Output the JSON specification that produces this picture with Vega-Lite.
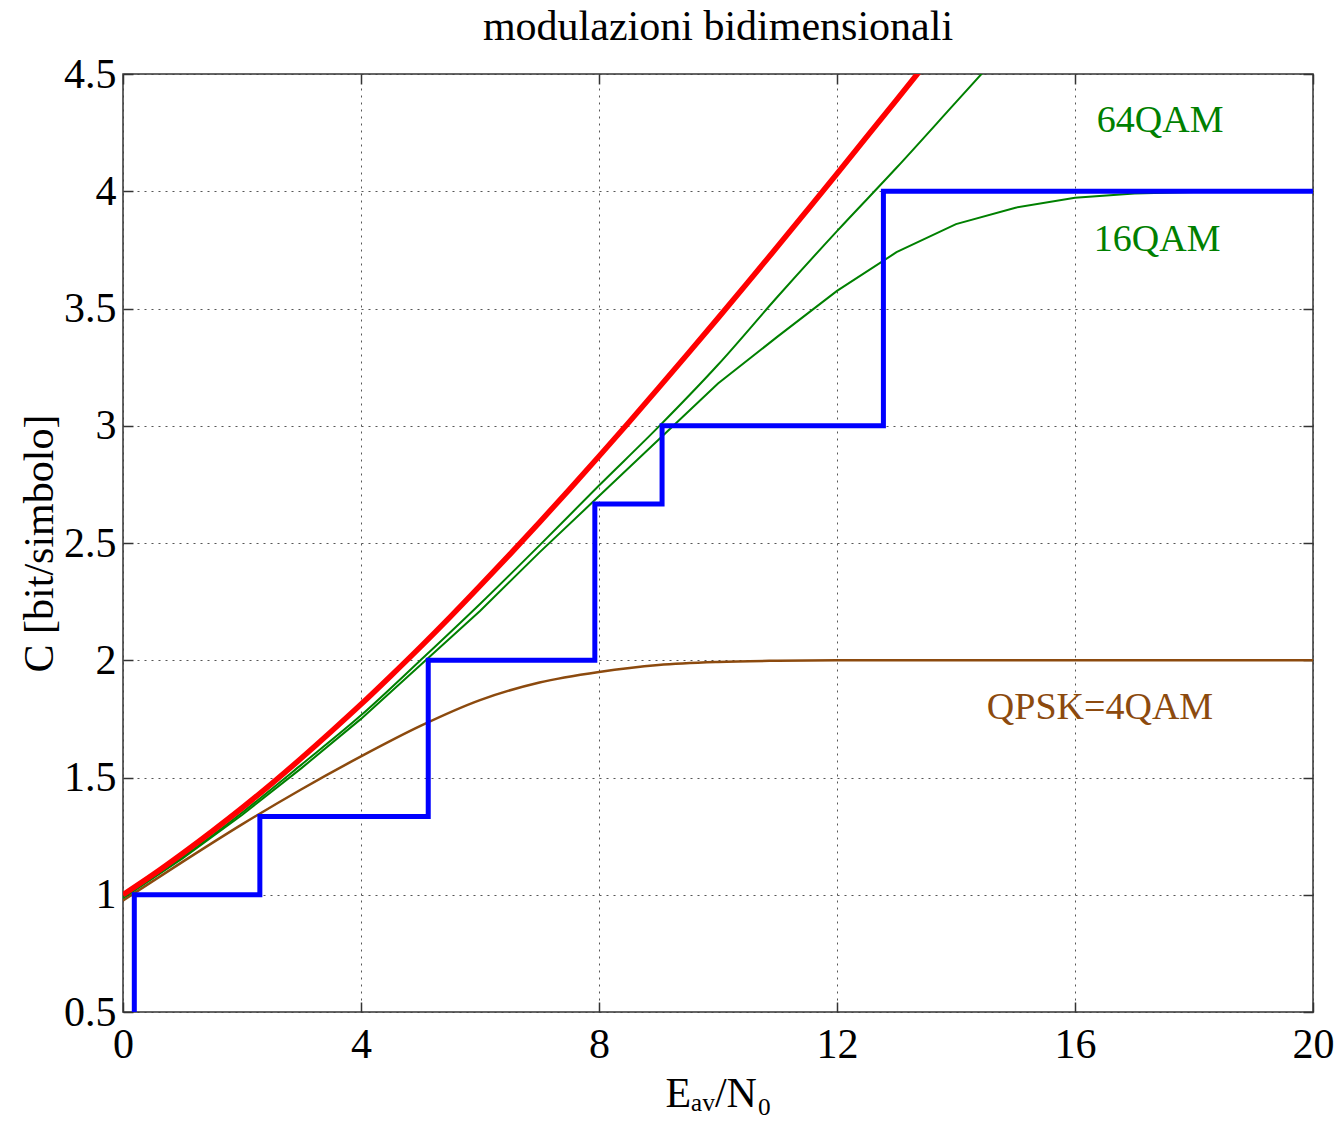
{
  "$schema": "https://vega.github.io/schema/vega-lite/v6.json",
  "width": 1190,
  "height": 938,
  "autosize": {"type": "none"},
  "padding": {"left": 123, "top": 74, "right": 26, "bottom": 116},
  "background": "white",
  "title": {"text": "modulazioni bidimensionali", "font": "Liberation Serif", "fontSize": 42, "fontWeight": "normal", "color": "black", "offset": 4, "anchor": "middle"},
  "config": {
    "view": {"stroke": "#333333", "strokeWidth": 1.5},
    "axis": {
      "labelFont": "Liberation Serif", "labelFontSize": 42, "labelColor": "black",
      "titleFont": "Liberation Serif", "titleFontSize": 42, "titleFontWeight": "normal", "titleColor": "black",
      "domain": false, "tickColor": "#333333", "tickWidth": 1.5,
      "gridColor": "#444444", "gridDash": [2, 5], "gridWidth": 1, "gridOpacity": 0.9
    }
  },
  "datasets": {
    "curves": [
      {"s": "shannon", "k": 0, "x": 0, "y": 1.0},
      {"s": "shannon", "k": 1, "x": 0.5, "y": 1.085},
      {"s": "shannon", "k": 2, "x": 1, "y": 1.176},
      {"s": "shannon", "k": 3, "x": 1.5, "y": 1.271},
      {"s": "shannon", "k": 4, "x": 2, "y": 1.37},
      {"s": "shannon", "k": 5, "x": 2.5, "y": 1.474},
      {"s": "shannon", "k": 6, "x": 3, "y": 1.583},
      {"s": "shannon", "k": 7, "x": 3.5, "y": 1.696},
      {"s": "shannon", "k": 8, "x": 4, "y": 1.812},
      {"s": "shannon", "k": 9, "x": 4.5, "y": 1.933},
      {"s": "shannon", "k": 10, "x": 5, "y": 2.057},
      {"s": "shannon", "k": 11, "x": 5.5, "y": 2.185},
      {"s": "shannon", "k": 12, "x": 6, "y": 2.317},
      {"s": "shannon", "k": 13, "x": 6.5, "y": 2.451},
      {"s": "shannon", "k": 14, "x": 7, "y": 2.588},
      {"s": "shannon", "k": 15, "x": 7.5, "y": 2.728},
      {"s": "shannon", "k": 16, "x": 8, "y": 2.87},
      {"s": "shannon", "k": 17, "x": 8.5, "y": 3.014},
      {"s": "shannon", "k": 18, "x": 9, "y": 3.161},
      {"s": "shannon", "k": 19, "x": 9.5, "y": 3.309},
      {"s": "shannon", "k": 20, "x": 10, "y": 3.459},
      {"s": "shannon", "k": 21, "x": 10.5, "y": 3.611},
      {"s": "shannon", "k": 22, "x": 11, "y": 3.764},
      {"s": "shannon", "k": 23, "x": 11.5, "y": 3.919},
      {"s": "shannon", "k": 24, "x": 12, "y": 4.075},
      {"s": "shannon", "k": 25, "x": 12.5, "y": 4.232},
      {"s": "shannon", "k": 26, "x": 13, "y": 4.389},
      {"s": "shannon", "k": 27, "x": 13.5, "y": 4.548},
      {"s": "shannon", "k": 28, "x": 14, "y": 4.707},
      {"s": "64QAM", "k": 0, "x": 0, "y": 0.99},
      {"s": "64QAM", "k": 1, "x": 1, "y": 1.16},
      {"s": "64QAM", "k": 2, "x": 2, "y": 1.35},
      {"s": "64QAM", "k": 3, "x": 3, "y": 1.555},
      {"s": "64QAM", "k": 4, "x": 4, "y": 1.765},
      {"s": "64QAM", "k": 5, "x": 5, "y": 2.0},
      {"s": "64QAM", "k": 6, "x": 6, "y": 2.24},
      {"s": "64QAM", "k": 7, "x": 7, "y": 2.49},
      {"s": "64QAM", "k": 8, "x": 8, "y": 2.745},
      {"s": "64QAM", "k": 9, "x": 9, "y": 2.995},
      {"s": "64QAM", "k": 10, "x": 10, "y": 3.26},
      {"s": "64QAM", "k": 11, "x": 11, "y": 3.55},
      {"s": "64QAM", "k": 12, "x": 12, "y": 3.83},
      {"s": "64QAM", "k": 13, "x": 13, "y": 4.1},
      {"s": "64QAM", "k": 14, "x": 14, "y": 4.38},
      {"s": "64QAM", "k": 15, "x": 15, "y": 4.66},
      {"s": "16QAM", "k": 0, "x": 0, "y": 0.985},
      {"s": "16QAM", "k": 1, "x": 1, "y": 1.155},
      {"s": "16QAM", "k": 2, "x": 2, "y": 1.34},
      {"s": "16QAM", "k": 3, "x": 3, "y": 1.54},
      {"s": "16QAM", "k": 4, "x": 4, "y": 1.75},
      {"s": "16QAM", "k": 5, "x": 5, "y": 1.98},
      {"s": "16QAM", "k": 6, "x": 6, "y": 2.21},
      {"s": "16QAM", "k": 7, "x": 7, "y": 2.46},
      {"s": "16QAM", "k": 8, "x": 8, "y": 2.7},
      {"s": "16QAM", "k": 9, "x": 9, "y": 2.94},
      {"s": "16QAM", "k": 10, "x": 10, "y": 3.18},
      {"s": "16QAM", "k": 11, "x": 11, "y": 3.38},
      {"s": "16QAM", "k": 12, "x": 12, "y": 3.575},
      {"s": "16QAM", "k": 13, "x": 13, "y": 3.74},
      {"s": "16QAM", "k": 14, "x": 14, "y": 3.86},
      {"s": "16QAM", "k": 15, "x": 15, "y": 3.93},
      {"s": "16QAM", "k": 16, "x": 16, "y": 3.972},
      {"s": "16QAM", "k": 17, "x": 17, "y": 3.99},
      {"s": "16QAM", "k": 18, "x": 18, "y": 3.997},
      {"s": "16QAM", "k": 19, "x": 19, "y": 4.0},
      {"s": "16QAM", "k": 20, "x": 20, "y": 4.0},
      {"s": "QPSK", "k": 0, "x": 0, "y": 0.975},
      {"s": "QPSK", "k": 1, "x": 1, "y": 1.14},
      {"s": "QPSK", "k": 2, "x": 2, "y": 1.3},
      {"s": "QPSK", "k": 3, "x": 3, "y": 1.45},
      {"s": "QPSK", "k": 4, "x": 4, "y": 1.59},
      {"s": "QPSK", "k": 5, "x": 5, "y": 1.72},
      {"s": "QPSK", "k": 6, "x": 6, "y": 1.83},
      {"s": "QPSK", "k": 7, "x": 7, "y": 1.905},
      {"s": "QPSK", "k": 8, "x": 8, "y": 1.95},
      {"s": "QPSK", "k": 9, "x": 9, "y": 1.98},
      {"s": "QPSK", "k": 10, "x": 10, "y": 1.993},
      {"s": "QPSK", "k": 11, "x": 11, "y": 1.998},
      {"s": "QPSK", "k": 12, "x": 12, "y": 2.0},
      {"s": "QPSK", "k": 13, "x": 13, "y": 2.0},
      {"s": "QPSK", "k": 14, "x": 14, "y": 2.0},
      {"s": "QPSK", "k": 15, "x": 15, "y": 2.0},
      {"s": "QPSK", "k": 16, "x": 16, "y": 2.0},
      {"s": "QPSK", "k": 17, "x": 17, "y": 2.0},
      {"s": "QPSK", "k": 18, "x": 18, "y": 2.0},
      {"s": "QPSK", "k": 19, "x": 19, "y": 2.0},
      {"s": "QPSK", "k": 20, "x": 20, "y": 2.0},
      {"s": "step", "k": 0, "x": 0.19, "y": 0.5},
      {"s": "step", "k": 1, "x": 0.19, "y": 1.0},
      {"s": "step", "k": 2, "x": 2.3, "y": 1.0},
      {"s": "step", "k": 3, "x": 2.3, "y": 1.3333},
      {"s": "step", "k": 4, "x": 5.13, "y": 1.3333},
      {"s": "step", "k": 5, "x": 5.13, "y": 2.0},
      {"s": "step", "k": 6, "x": 7.93, "y": 2.0},
      {"s": "step", "k": 7, "x": 7.93, "y": 2.6667},
      {"s": "step", "k": 8, "x": 9.06, "y": 2.6667},
      {"s": "step", "k": 9, "x": 9.06, "y": 3.0},
      {"s": "step", "k": 10, "x": 12.78, "y": 3.0},
      {"s": "step", "k": 11, "x": 12.78, "y": 4.0},
      {"s": "step", "k": 12, "x": 20, "y": 4.0}
    ],
    "labels": [
      {"t": "64QAM", "x": 17.43, "y": 4.3},
      {"t": "16QAM", "x": 17.38, "y": 3.79},
      {"t": "QPSK=4QAM", "x": 16.42, "y": 1.796}
    ]
  },
  "resolve": {"axis": {"x": "independent", "y": "independent"}},
  "layer": [
    {
      "encoding": {
        "x": {"field": "x", "type": "quantitative", "scale": {"domain": [0, 20], "nice": false, "zero": false},
          "axis": {"values": [0, 4, 8, 12, 16, 20], "format": "~g", "title": "Eₐᵥ/N₀", "ticks": false, "labelPadding": 12, "titlePadding": 8, "labelFlush": false}},
        "y": {"field": "y", "type": "quantitative", "scale": {"domain": [0.5, 4.5], "nice": false, "zero": false},
          "axis": {"values": [0.5, 1, 1.5, 2, 2.5, 3, 3.5, 4, 4.5], "format": "~g", "title": "C [bit/simbolo]", "ticks": false, "labelPadding": 7, "titlePadding": 2, "labelFlush": false}}
      },
      "layer": [
        {"data": {"name": "curves"}, "transform": [{"filter": "datum.s === 'QPSK'"}],
          "mark": {"type": "line", "color": "#8c4a0e", "strokeWidth": 2.5, "clip": true, "interpolate": "monotone"}, "encoding": {"order": {"field": "k"}}},
        {"data": {"name": "curves"}, "transform": [{"filter": "datum.s === '16QAM'"}],
          "mark": {"type": "line", "color": "#008000", "strokeWidth": 2, "clip": true}, "encoding": {"order": {"field": "k"}}},
        {"data": {"name": "curves"}, "transform": [{"filter": "datum.s === '64QAM'"}],
          "mark": {"type": "line", "color": "#008000", "strokeWidth": 2, "clip": true, "interpolate": "monotone"}, "encoding": {"order": {"field": "k"}}},
        {"data": {"name": "curves"}, "transform": [{"filter": "datum.s === 'shannon'"}],
          "mark": {"type": "line", "color": "#ff0000", "strokeWidth": 5.5, "clip": true, "interpolate": "monotone"}, "encoding": {"order": {"field": "k"}}},
        {"data": {"name": "curves"}, "transform": [{"filter": "datum.s === 'step'"}],
          "mark": {"type": "line", "color": "#0000ff", "strokeWidth": 5, "clip": true, "strokeJoin": "miter"}, "encoding": {"order": {"field": "k"}}},
        {"data": {"name": "labels"}, "transform": [{"filter": "datum.t !== 'QPSK=4QAM'"}],
          "mark": {"type": "text", "color": "#008000", "font": "Liberation Serif", "fontSize": 38, "align": "center", "baseline": "middle"},
          "encoding": {"text": {"field": "t"}}},
        {"data": {"name": "labels"}, "transform": [{"filter": "datum.t === 'QPSK=4QAM'"}],
          "mark": {"type": "text", "color": "#8c4a0e", "font": "Liberation Serif", "fontSize": 38, "align": "center", "baseline": "middle"},
          "encoding": {"text": {"field": "t"}}}
      ]
    },
    {
      "data": {"name": "labels"},
      "mark": {"type": "point", "opacity": 0},
      "encoding": {
        "x": {"field": "x", "type": "quantitative", "scale": {"domain": [0, 20], "nice": false, "zero": false},
          "axis": {"orient": "bottom", "values": [0, 4, 8, 12, 16, 20], "offset": -10, "tickSize": 10, "labels": false, "grid": false, "title": null}},
        "y": {"field": "y", "type": "quantitative", "scale": {"domain": [0.5, 4.5], "nice": false, "zero": false},
          "axis": {"orient": "left", "values": [0.5, 1, 1.5, 2, 2.5, 3, 3.5, 4, 4.5], "offset": -10, "tickSize": 10, "labels": false, "grid": false, "title": null}}
      }
    },
    {
      "data": {"name": "labels"},
      "mark": {"type": "point", "opacity": 0},
      "encoding": {
        "x": {"field": "x", "type": "quantitative", "scale": {"domain": [0, 20], "nice": false, "zero": false},
          "axis": {"orient": "top", "values": [0, 4, 8, 12, 16, 20], "offset": -10, "tickSize": 10, "labels": false, "grid": false, "title": null}},
        "y": {"field": "y", "type": "quantitative", "scale": {"domain": [0.5, 4.5], "nice": false, "zero": false},
          "axis": {"orient": "right", "values": [0.5, 1, 1.5, 2, 2.5, 3, 3.5, 4, 4.5], "offset": -10, "tickSize": 10, "labels": false, "grid": false, "title": null}}
      }
    }
  ]
}
